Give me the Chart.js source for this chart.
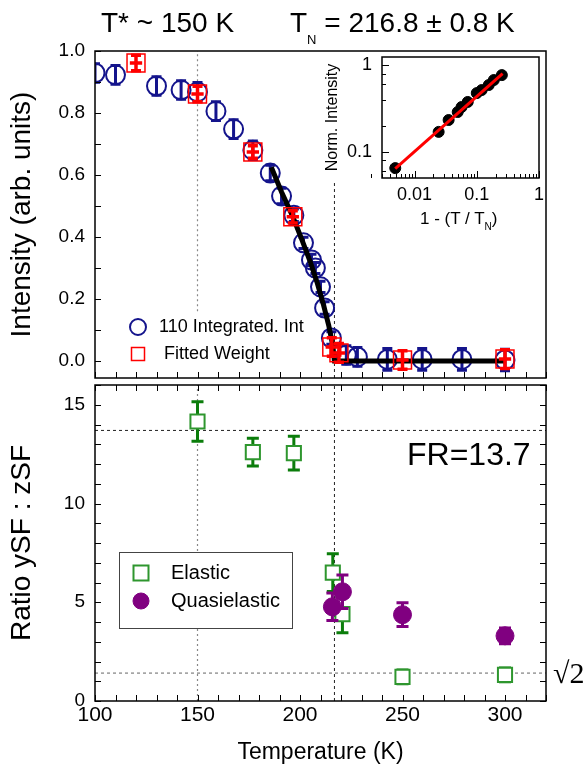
<!DOCTYPE html>
<html>
<head>
<meta charset="utf-8">
<script src="https://cdn.jsdelivr.net/npm/chart.js@4.4.1/dist/chart.umd.min.js"></script>
<style>
  body { margin: 0; background: #fff; width: 588px; height: 771px; position: relative; overflow: hidden;
         font-family: "Liberation Sans", Arial, sans-serif; }
  .box { position: absolute; }
  .txt { position: absolute; white-space: nowrap; color: #000; line-height: 1; }
</style>
</head>
<body>
<div class="box" style="left:0;top:0"><canvas id="topChart" width="588" height="380"></canvas></div>
<div class="box" style="left:0;top:380px"><canvas id="bottomChart" width="588" height="391"></canvas></div>
<div class="box" style="left:300px;top:50px"><canvas id="insetChart" width="246" height="180"></canvas></div>

<div class="txt" style="left:101px;top:9px;font-size:28px">T* ~ 150 K</div>
<div class="txt" style="left:290px;top:9px;font-size:28px">T<span style="font-size:13px;position:relative;top:12px">N</span> = 216.8 ± 0.8 K</div>
<div class="txt" style="left:420px;top:210px;font-size:17px">1 - (T / T<span style="font-size:10px;position:relative;top:6px">N</span>)</div>
<div class="txt" style="left:407px;top:438px;font-size:32px">FR=13.7</div>
<div class="txt" style="left:553px;top:658px;font-size:30px;font-family:'Liberation Serif',serif">√2</div>

<script>
// ---------- data ----------
var tempTicks = [100, 150, 200, 250, 300];
var intensityTicks = [0.0, 0.2, 0.4, 0.6, 0.8, 1.0];
var ratioTicks = [0, 5, 10, 15];
var insetXTicks = [0.01, 0.1, 1];
var insetYTicks = [0.1, 1];

// 110 integrated intensity (blue circles)
var intT   = [100, 110, 130, 142, 150, 159, 167.6, 177, 185.5, 191, 197, 201.7, 205.6, 207.5, 210, 212, 215.3, 222.6, 228, 242.6, 259.6, 279, 300];
var intY   = [0.929, 0.923, 0.887, 0.874, 0.868, 0.806, 0.748, 0.68, 0.606, 0.532, 0.47, 0.381, 0.326, 0.30, 0.239, 0.171, 0.074, 0.019, 0.013, 0.005, 0.005, 0.005, 0.003];
var intErr = [0.03, 0.03, 0.03, 0.03, 0.03, 0.03, 0.03, 0.03, 0.025, 0.025, 0.02, 0.018, 0.018, 0.018, 0.018, 0.02, 0.02, 0.03, 0.03, 0.035, 0.035, 0.035, 0.035];

// fitted weight (red squares)
var fitT    = [120, 150, 177, 196.5, 215.5, 219, 250, 300];
var fitY    = [0.961, 0.861, 0.674, 0.465, 0.045, 0.026, 0.003, 0.006];
var fitErr  = [0.025, 0.025, 0.02, 0.02, 0.03, 0.03, 0.03, 0.03];
var fitTErr = [3, 3, 3, 3, 3, 3, 3, 3];

// order parameter fit (black line)
var powT = [186, 191, 196.5, 201, 205, 208.5, 211.5, 214, 216, 216.8, 300];
var powY = [0.625, 0.545, 0.465, 0.39, 0.32, 0.25, 0.18, 0.115, 0.05, 0.0, 0.0];

var tStar = 150;
var tN = 216.8;

// ratio ySF : zSF
var elT   = [150, 177, 197, 216, 220.7, 250, 300];
var elY   = [14.15, 12.6, 12.55, 6.5, 4.4, 1.22, 1.32];
var elErr = [1.0, 0.7, 0.85, 0.95, 0.95, 0.35, 0.35];

var qT   = [215.8, 220.7, 250, 300];
var qY   = [4.77, 5.53, 4.37, 3.3];
var qErr = [0.7, 0.85, 0.6, 0.4];

var frRatio = 13.7;
var sqrtTwo = 1.414;

// inset: normalised intensity vs reduced temperature
var redT     = [0.0049, 0.0244, 0.0353, 0.0494, 0.057, 0.0716, 0.1, 0.12, 0.156, 0.188, 0.253];
var normInt  = [0.065, 0.17, 0.233, 0.288, 0.329, 0.376, 0.476, 0.516, 0.59, 0.673, 0.767];
var insetFitX = [0.0049, 0.26];
var insetFitY = [0.064, 0.80];

// ---------- helpers ----------
function pts(xs, ys) {
  return xs.map(function (x, i) { return { x: x, y: ys[i] }; });
}
function range(a, b, step) {
  var out = [];
  for (var v = a; v <= b + 1e-9; v += step) out.push(+v.toFixed(4));
  return out;
}

Chart.defaults.font.family = "'Liberation Sans', Arial, sans-serif";
Chart.defaults.color = '#000';

var navy = '#14148c';
var red = '#ff0000';
var green = '#2e962e';
var greenDark = '#0b7d0b';
var purple = '#800080';

// error bars, drawn through the chart scales
function drawErrors(chart, index) {
  var ds = chart.data.datasets[index];
  if (!ds.yErr) return;
  var xs = chart.scales.x, ys = chart.scales.y, ctx = chart.ctx, a = chart.chartArea;
  ctx.save();
  ctx.beginPath();
  ctx.rect(a.left, a.top, a.right - a.left, a.bottom - a.top);
  ctx.clip();
  ctx.strokeStyle = ds.errColor;
  ctx.lineWidth = ds.errWidth;
  ds.data.forEach(function (p, k) {
    var px = xs.getPixelForValue(p.x), py = ys.getPixelForValue(p.y);
    var top = ys.getPixelForValue(p.y + ds.yErr[k]);
    var bot = ys.getPixelForValue(p.y - ds.yErr[k]);
    var c = ds.capHalf;
    ctx.beginPath();
    ctx.moveTo(px, top); ctx.lineTo(px, bot);
    ctx.moveTo(px - c, top); ctx.lineTo(px + c, top);
    ctx.moveTo(px - c, bot); ctx.lineTo(px + c, bot);
    if (ds.xErr) {
      ctx.moveTo(xs.getPixelForValue(p.x - ds.xErr[k]), py);
      ctx.lineTo(xs.getPixelForValue(p.x + ds.xErr[k]), py);
    }
    ctx.stroke();
  });
  ctx.restore();
}
var errorBars = {
  id: 'errorBars',
  beforeDatasetDraw: function (chart, args) {
    if (chart.data.datasets[args.index].errBehind) drawErrors(chart, args.index);
  },
  afterDatasetDraw: function (chart, args) {
    if (!chart.data.datasets[args.index].errBehind) drawErrors(chart, args.index);
  }
};

// legend drawn inside the plot area
function makeLegend(o) {
  return {
    id: 'boxLegend',
    afterDatasetsDraw: function (chart) {
      var ctx = chart.ctx;
      ctx.save();
      if (o.box) {
        ctx.fillStyle = '#fff';
        ctx.fillRect(o.box[0], o.box[1], o.box[2], o.box[3]);
        ctx.strokeStyle = '#444';
        ctx.lineWidth = 1;
        ctx.strokeRect(o.box[0] + 0.5, o.box[1] + 0.5, o.box[2], o.box[3]);
      }
      o.items.forEach(function (idx, k) {
        var ds = chart.data.datasets[idx];
        var y = o.y + k * o.rowH;
        ctx.lineWidth = ds.pointBorderWidth;
        ctx.strokeStyle = ds.pointBorderColor;
        ctx.fillStyle = ds.pointBackgroundColor;
        ctx.beginPath();
        if (ds.pointStyle === 'rect') {
          ctx.rect(o.x - o.rect / 2, y - o.rect / 2, o.rect, o.rect);
        } else {
          ctx.arc(o.x, y, o.circle, 0, Math.PI * 2);
        }
        ctx.fill();
        ctx.stroke();
        ctx.fillStyle = '#000';
        ctx.font = o.font;
        ctx.textBaseline = 'middle';
        ctx.fillText(ds.label, o.textX, y);
      });
      ctx.restore();
    }
  };
}

// frame and inward tick marks
function makeFrame(o) {
  return {
    id: 'frame',
    afterDatasetsDraw: function (chart) {
      var ctx = chart.ctx, a = chart.chartArea, sx = chart.scales.x, sy = chart.scales.y;
      ctx.save();
      ctx.strokeStyle = '#000';
      ctx.lineWidth = 1;
      ctx.beginPath();
      function xt(list, len, edge, dir) {
        (list || []).forEach(function (v) {
          var p = Math.round(sx.getPixelForValue(v)) + 0.5;
          ctx.moveTo(p, edge); ctx.lineTo(p, edge + dir * len);
        });
      }
      function yt(list, len, edge, dir) {
        (list || []).forEach(function (v) {
          var p = Math.round(sy.getPixelForValue(v)) + 0.5;
          ctx.moveTo(edge, p); ctx.lineTo(edge + dir * len, p);
        });
      }
      xt(o.bottom, o.len, a.bottom, -1);
      xt(o.top, o.len, a.top, 1);
      yt(o.left, o.len, a.left, 1);
      yt(o.right, o.len, a.right, -1);
      xt(o.bottomMinor, o.minorLen, a.bottom, -1);
      yt(o.leftMinor, o.minorLen, a.left, 1);
      ctx.stroke();
      ctx.lineWidth = o.width;
      ctx.strokeRect(a.left, a.top, a.right - a.left, a.bottom - a.top);
      ctx.restore();
    }
  };
}

function fixTicks(list) {
  return function (scale) { scale.ticks = list.map(function (v) { return { value: v }; }); };
}
function fitBox(w, h) {
  return function (s) {
    if (w !== null) s.width = w;
    if (h !== null) s.height = h;
    s.paddingTop = 0; s.paddingBottom = 0; s.paddingLeft = 0; s.paddingRight = 0;
  };
}
var flatGrid = { display: false, drawTicks: false };

// ---------- top panel ----------
new Chart(document.getElementById('topChart'), {
  type: 'scatter',
  data: {
    datasets: [
      { label: '110 Integrated. Int', data: pts(intT, intY), yErr: intErr, errColor: navy, errWidth: 3, capHalf: 5,
        pointStyle: 'circle', pointRadius: 9.5, pointBorderWidth: 2, pointBorderColor: navy,
        pointBackgroundColor: 'rgba(0,0,0,0)', clip: 0, order: 3 },
      { label: ' Fitted Weight', data: pts(fitT, fitY), yErr: fitErr, xErr: fitTErr, errColor: red, errWidth: 3.5, capHalf: 5,
        pointStyle: 'rect', pointRadius: 12.7, pointBorderWidth: 1.5, pointBorderColor: red,
        pointBackgroundColor: 'rgba(0,0,0,0)', order: 1 },
      { label: 'fit', data: pts(powT, powY), showLine: true, borderColor: '#000', borderWidth: 5,
        pointRadius: 0, order: 2 },
      { label: 'T*', data: [{ x: tStar, y: 0.16 }, { x: tStar, y: 1.0 }], showLine: true, borderColor: '#888',
        borderWidth: 1.2, borderDash: [2, 3], pointRadius: 0, order: 10 },
      { label: 'TN', data: [{ x: tN, y: -0.055 }, { x: tN, y: 0.584 }], showLine: true, borderColor: '#222',
        borderWidth: 1, borderDash: [3, 3], pointRadius: 0, order: 10 }
    ]
  },
  options: {
    responsive: false,
    animation: false,
    events: [],
    layout: { autoPadding: false, padding: { left: 0, top: 51, right: 42, bottom: 0 } },
    scales: {
      x: {
        type: 'linear', min: 100, max: 320,
        grid: flatGrid, border: { display: false },
        ticks: { display: false },
        afterFit: fitBox(null, 2)
      },
      y: {
        type: 'linear', min: -0.055, max: 1.0,
        grid: flatGrid, border: { display: false },
        afterBuildTicks: fixTicks(intensityTicks),
        ticks: { font: { size: 19 }, padding: 10, callback: function (v) { return v.toFixed(1); } },
        title: { display: true, text: 'Intensity (arb. units)', font: { size: 28 }, padding: { top: 5, bottom: 0 } },
        afterFit: fitBox(95, null)
      }
    },
    plugins: { legend: { display: false }, tooltip: { enabled: false } }
  },
  plugins: [
    errorBars,
    makeLegend({ items: [0, 1], x: 138, y: 327, rowH: 27, textX: 159, font: '18px "Liberation Sans", Arial',
                 rect: 13, circle: 8 }),
    makeFrame({ width: 1.5, len: 6, bottom: range(100, 320, 10), left: range(0, 1.0, 0.1) })
  ]
});

// ---------- bottom panel ----------
new Chart(document.getElementById('bottomChart'), {
  type: 'scatter',
  data: {
    datasets: [
      { label: 'Elastic', data: pts(elT, elY), yErr: elErr, errColor: greenDark, errWidth: 3, capHalf: 6, errBehind: true,
        pointStyle: 'rect', pointRadius: 10, pointBorderWidth: 2, pointBorderColor: green,
        pointBackgroundColor: '#fff', order: 2 },
      { label: 'Quasielastic', data: pts(qT, qY), yErr: qErr, errColor: purple, errWidth: 3, capHalf: 6,
        pointStyle: 'circle', pointRadius: 9, pointBorderWidth: 1, pointBorderColor: purple,
        pointBackgroundColor: purple, order: 1 },
      { label: 'FR', data: [{ x: 100, y: frRatio }, { x: 320, y: frRatio }], showLine: true, borderColor: '#222',
        borderWidth: 1, borderDash: [3, 3], pointRadius: 0, order: 10 },
      { label: 'sqrt2', data: [{ x: 100, y: sqrtTwo }, { x: 320, y: sqrtTwo }], showLine: true, borderColor: '#666',
        borderWidth: 1, borderDash: [3, 3], pointRadius: 0, order: 10 },
      { label: 'T*', data: [{ x: tStar, y: 0 }, { x: tStar, y: 16 }], showLine: true, borderColor: '#888',
        borderWidth: 1.2, borderDash: [2, 3], pointRadius: 0, order: 10 },
      { label: 'TN', data: [{ x: tN, y: 0 }, { x: tN, y: 16 }], showLine: true, borderColor: '#222',
        borderWidth: 1, borderDash: [3, 3], pointRadius: 0, order: 10 }
    ]
  },
  options: {
    responsive: false,
    animation: false,
    events: [],
    layout: { autoPadding: false, padding: { left: 0, top: 5, right: 42, bottom: 0 } },
    scales: {
      x: {
        type: 'linear', min: 100, max: 320,
        grid: flatGrid, border: { display: false },
        afterBuildTicks: fixTicks(tempTicks),
        ticks: { font: { size: 21 }, padding: 2, maxRotation: 0 },
        title: { display: true, text: 'Temperature (K)', font: { size: 23 }, padding: { top: 0, bottom: 5 } },
        afterFit: fitBox(null, 70)
      },
      y: {
        type: 'linear', min: 0, max: 16,
        grid: flatGrid, border: { display: false },
        afterBuildTicks: fixTicks(ratioTicks),
        ticks: { font: { size: 19 }, padding: 10 },
        title: { display: true, text: 'Ratio ySF : zSF', font: { size: 28 }, padding: { top: 5, bottom: 0 } },
        afterFit: fitBox(95, null)
      }
    },
    plugins: { legend: { display: false }, tooltip: { enabled: false } }
  },
  plugins: [
    errorBars,
    makeLegend({ items: [0, 1], box: [119, 172, 173, 76], x: 141, y: 193, rowH: 28, textX: 171,
                 font: '20px "Liberation Sans", Arial', rect: 15, circle: 8 }),
    makeFrame({ width: 1.5, len: 6, bottom: range(100, 320, 10), top: range(100, 320, 10),
                left: range(0, 16, 1), right: range(0, 16, 1) })
  ]
});

// ---------- inset ----------
var insetMinorX = [];
[0.001, 0.01, 0.1].forEach(function (d) {
  for (var m = 2; m <= 9; m++) insetMinorX.push(d * m);
});
var insetMinorY = [0.06, 0.08, 0.2, 0.4, 0.6, 0.8];

new Chart(document.getElementById('insetChart'), {
  type: 'scatter',
  data: {
    datasets: [
      { label: 'fit', data: pts(insetFitX, insetFitY), showLine: true, borderColor: red, borderWidth: 3,
        pointRadius: 0, order: 1 },
      { label: 'data', data: pts(redT, normInt), pointStyle: 'circle', pointRadius: 5.5,
        pointBackgroundColor: '#000', pointBorderColor: '#000', order: 2 }
    ]
  },
  options: {
    responsive: false,
    animation: false,
    events: [],
    layout: { autoPadding: false, padding: { left: 0, top: 7, right: 7, bottom: 0 } },
    scales: {
      x: {
        type: 'logarithmic', min: 0.003, max: 1,
        grid: flatGrid, border: { display: false },
        afterBuildTicks: fixTicks(insetXTicks),
        ticks: { font: { size: 18 }, padding: 6, maxRotation: 0, callback: function (v) { return String(v); } },
        afterFit: fitBox(null, 52)
      },
      y: {
        type: 'logarithmic', min: 0.05, max: 1.24,
        grid: flatGrid, border: { display: false },
        afterBuildTicks: fixTicks(insetYTicks),
        ticks: { font: { size: 18 }, padding: 10, callback: function (v) { return String(v); } },
        title: { display: true, text: 'Norm. Intensity', font: { size: 16 }, padding: { top: 23, bottom: 0 } },
        afterFit: fitBox(82, null)
      }
    },
    plugins: { legend: { display: false }, tooltip: { enabled: false } }
  },
  plugins: [
    makeFrame({ width: 1.5, len: 7, minorLen: 4, bottom: insetXTicks, left: insetYTicks,
                bottomMinor: insetMinorX, leftMinor: insetMinorY })
  ]
});
</script>
</body>
</html>
